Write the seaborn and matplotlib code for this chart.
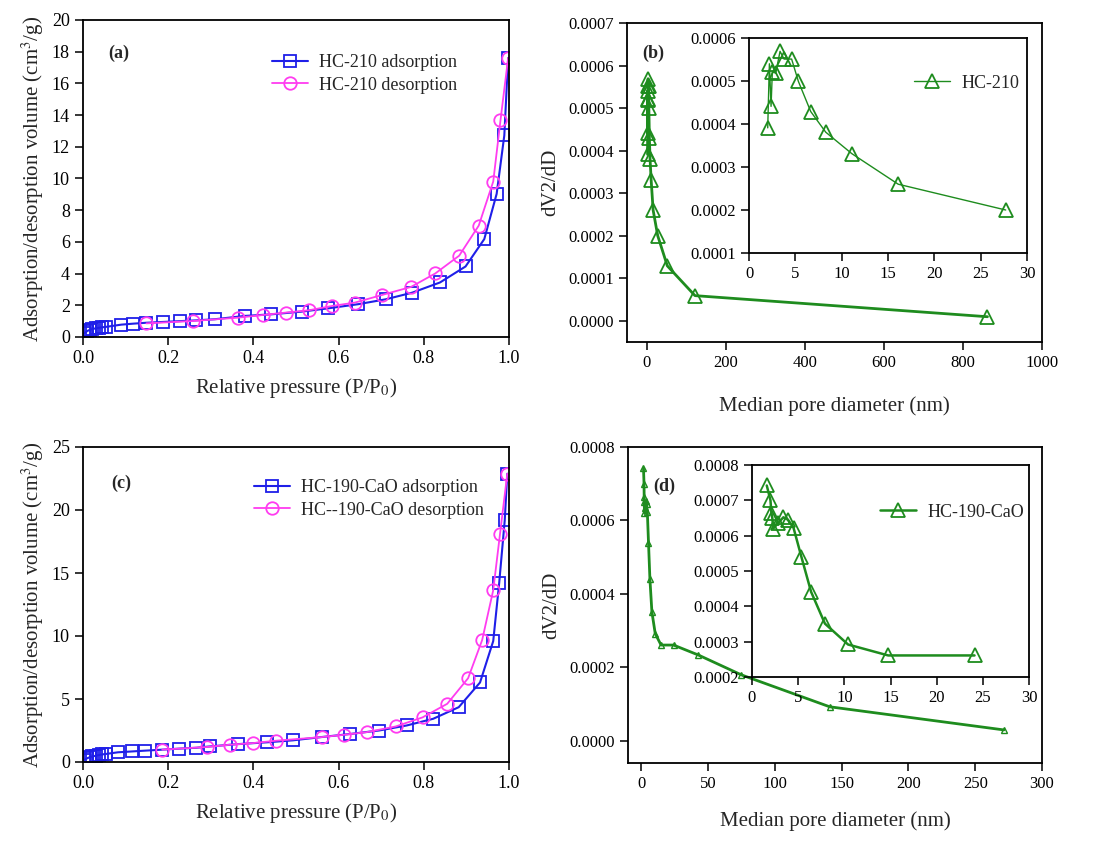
import numpy as np
import pandas as pd
import matplotlib
matplotlib.use("Agg")
import matplotlib.pyplot as plt
import seaborn as sns

sns.set_theme(style="white")
plt.rcParams['font.family'] = ['Liberation Serif', 'DejaVu Serif']
plt.rcParams['mathtext.fontset'] = 'stix'

# ---------------- data ----------------
# (a) HC-210 isotherm
a_ads_x = [0.004, 0.010, 0.016, 0.022, 0.030, 0.037, 0.045, 0.054, 0.090, 0.117, 0.149, 0.188, 0.227,
           0.266, 0.309, 0.380, 0.442, 0.513, 0.576, 0.646, 0.711, 0.773, 0.838, 0.898, 0.942, 0.971,
           0.989, 0.998]
a_ads_y = [0.25, 0.38, 0.45, 0.50, 0.55, 0.58, 0.61, 0.64, 0.78, 0.84, 0.90, 0.95, 1.00,
           1.05, 1.12, 1.33, 1.43, 1.60, 1.81, 2.07, 2.38, 2.80, 3.44, 4.45, 6.18, 9.03,
           12.72, 17.60]
a_des_x = [0.998, 0.980, 0.963, 0.929, 0.883, 0.827, 0.770, 0.703, 0.638, 0.585, 0.531, 0.476,
           0.423, 0.364, 0.258, 0.149]
a_des_y = [17.60, 13.67, 9.81, 7.03, 5.13, 4.01, 3.16, 2.66, 2.17, 1.96, 1.69, 1.54,
           1.39, 1.22, 1.01, 0.86]

# (c) HC-190-CaO isotherm
c_ads_x = [0.004, 0.010, 0.016, 0.022, 0.030, 0.037, 0.045, 0.054, 0.082, 0.116, 0.145, 0.186,
           0.225, 0.266, 0.299, 0.364, 0.431, 0.493, 0.560, 0.626, 0.695, 0.760, 0.822, 0.882,
           0.932, 0.963, 0.977, 0.990, 0.996]
c_ads_y = [0.18, 0.30, 0.38, 0.44, 0.50, 0.55, 0.60, 0.64, 0.77, 0.84, 0.90, 0.98,
           1.06, 1.13, 1.24, 1.42, 1.56, 1.72, 1.98, 2.22, 2.50, 2.90, 3.43, 4.35,
           6.31, 9.60, 14.22, 19.18, 22.88]
c_des_x = [0.996, 0.979, 0.963, 0.937, 0.904, 0.855, 0.797, 0.734, 0.666, 0.613, 0.561, 0.453,
           0.399, 0.345, 0.290, 0.186]
c_des_y = [22.88, 18.13, 13.64, 9.68, 6.65, 4.62, 3.54, 2.82, 2.37, 2.16, 1.98, 1.69,
           1.50, 1.37, 1.19, 0.98]

# (b) HC-210 pore size distribution
b_inset_x = [2.02, 2.20, 2.38, 2.52, 2.88, 3.35, 3.78, 4.60, 5.33, 6.66, 8.28, 11.1, 16.1, 27.7]
b_inset_y = [0.000391, 0.000540, 0.000441, 0.000522, 0.000518, 0.000569, 0.000551, 0.000551,
             0.000499, 0.000429, 0.000381, 0.000331, 0.000260, 0.000200]
b_main_x = b_inset_x + [52.0, 122.0, 862.0]
b_main_y = b_inset_y + [0.000129, 0.000059, 0.0000094]

# (d) HC-190-CaO pore size distribution
d_inset_x = [1.6, 2.0, 2.1, 2.2, 2.3, 2.8, 3.4, 3.9, 4.5, 5.35, 6.4, 7.9, 10.4, 14.75, 24.1]
d_inset_y = [0.000742, 0.000700, 0.000665, 0.000650, 0.000620, 0.000635, 0.000652, 0.000645,
             0.000622, 0.000540, 0.000441, 0.000351, 0.000292, 0.000261, 0.000261]
d_main_x = d_inset_x + [42.6, 74.8, 141.0, 271.5]
d_main_y = d_inset_y + [0.000234, 0.000180, 0.000093, 0.000030]

BLUE = '#1f1fe8'
MAGENTA = '#ff3cf0'
GREEN = '#1e8c1e'

W, H = 1096, 843
fig = plt.figure(figsize=(W / 100, H / 100), dpi=100)
fig.patch.set_facecolor('white')


def rect(l, t, r, b):
    return [l / W, 1 - b / H, (r - l) / W, (b - t) / H]


def style_axes(ax, fs=11.5):
    ax.set_facecolor('white')
    for s in ax.spines.values():
        s.set_color('black')
        s.set_linewidth(1.3)
        s.set_visible(True)
    ax.tick_params(axis='both', which='major', direction='out', length=6, width=1.1,
                   colors='black', labelsize=fs, bottom=True, left=True, top=False, right=False)
    ax.grid(False)


def line(ax, x, y, color, marker, ms, lw, label=None, mew=1.3):
    df = pd.DataFrame({'x': x, 'y': y})
    sns.lineplot(data=df, x='x', y='y', ax=ax, color=color, marker=marker, markersize=ms,
                 markerfacecolor='none', markeredgecolor=color, markeredgewidth=mew,
                 linewidth=lw, sort=False, estimator=None, label=label, legend=False)


# ---- (a)
ax_a = fig.add_axes(rect(83, 20, 509, 337))
line(ax_a, a_ads_x, a_ads_y, BLUE, 's', 9, 1.5, 'HC-210 adsorption')
line(ax_a, a_des_x, a_des_y, MAGENTA, 'o', 9, 1.3, 'HC-210 desorption')
ax_a.set_xlim(0, 1.0)
ax_a.set_ylim(0, 20)
ax_a.set_xticks(np.arange(0, 1.01, 0.2))
ax_a.set_xticklabels(['0.0', '0.2', '0.4', '0.6', '0.8', '1.0'])
ax_a.set_yticks(np.arange(0, 21, 2))
style_axes(ax_a, 13)
ax_a.set_xlabel('Relative pressure (P/P$_0$)', fontsize=15, labelpad=6)
ax_a.set_ylabel('Adsorption/desorption volume (cm$^3$/g)', fontsize=15, labelpad=4)
ax_a.text(0.059, 0.896, '(a)', transform=ax_a.transAxes, fontsize=13, fontweight='bold',
          va='center')
ax_a.legend(loc='upper left', bbox_to_anchor=(0.405, 0.943), frameon=False, fontsize=13,
            handlelength=2.0, handletextpad=0.6, labelspacing=0.3)

# ---- (c)
ax_c = fig.add_axes(rect(83, 447, 509, 762))
line(ax_c, c_ads_x, c_ads_y, BLUE, 's', 9, 1.5, 'HC-190-CaO adsorption')
line(ax_c, c_des_x, c_des_y, MAGENTA, 'o', 9, 1.3, 'HC--190-CaO desorption')
ax_c.set_xlim(0, 1.0)
ax_c.set_ylim(0, 25)
ax_c.set_xticks(np.arange(0, 1.01, 0.2))
ax_c.set_xticklabels(['0.0', '0.2', '0.4', '0.6', '0.8', '1.0'])
ax_c.set_yticks(np.arange(0, 26, 5))
style_axes(ax_c, 13)
ax_c.set_xlabel('Relative pressure (P/P$_0$)', fontsize=15, labelpad=6)
ax_c.set_ylabel('Adsorption/desorption volume (cm$^3$/g)', fontsize=15, labelpad=4)
ax_c.text(0.066, 0.886, '(c)', transform=ax_c.transAxes, fontsize=13, fontweight='bold',
          va='center')
ax_c.legend(loc='upper left', bbox_to_anchor=(0.364, 0.949), frameon=False, fontsize=13,
            handlelength=2.0, handletextpad=0.6, labelspacing=0.3)

# ---- (b)
ax_b = fig.add_axes(rect(627, 23, 1042, 342))
line(ax_b, b_main_x, b_main_y, GREEN, '^', 10, 2.0)
ax_b.set_xlim(-50, 1000)
ax_b.set_ylim(-0.00005, 0.0007)
ax_b.set_xticks(np.arange(0, 1001, 200))
ax_b.set_yticks(np.arange(0, 0.00071, 0.0001))
ax_b.set_yticklabels([f'{v:.4f}' for v in np.arange(0, 0.00071, 0.0001)])
style_axes(ax_b, 12)
ax_b.set_xlabel('Median pore diameter (nm)', fontsize=15, labelpad=18)
ax_b.set_ylabel('dV2/dD', fontsize=15, labelpad=6)
ax_b.text(0.036, 0.906, '(b)', transform=ax_b.transAxes, fontsize=13, fontweight='bold',
          va='center')

axi_b = fig.add_axes(rect(749, 38, 1027, 253))
line(axi_b, b_inset_x, b_inset_y, GREEN, '^', 10, 1.0, 'HC-210')
axi_b.set_xlim(0, 30)
axi_b.set_ylim(0.0001, 0.0006)
axi_b.set_xticks(np.arange(0, 31, 5))
axi_b.set_yticks(np.arange(0.0001, 0.00061, 0.0001))
axi_b.set_yticklabels([f'{v:.4f}' for v in np.arange(0.0001, 0.00061, 0.0001)])
style_axes(axi_b, 12)
axi_b.set_xlabel('')
axi_b.set_ylabel('')
axi_b.legend(loc='upper right', bbox_to_anchor=(1.03, 0.905), frameon=False, fontsize=13,
             handlelength=2.0, handletextpad=0.6)

# ---- (d)
ax_d = fig.add_axes(rect(628, 447, 1042, 763))
line(ax_d, d_main_x, d_main_y, GREEN, '^', 5, 2.0, mew=1.0)
ax_d.set_xlim(-10, 300)
ax_d.set_ylim(-0.00006, 0.0008)
ax_d.set_xticks(np.arange(0, 301, 50))
ax_d.set_yticks(np.arange(0, 0.00081, 0.0002))
ax_d.set_yticklabels([f'{v:.4f}' for v in np.arange(0, 0.00081, 0.0002)])
style_axes(ax_d, 12)
ax_d.set_xlabel('Median pore diameter (nm)', fontsize=15, labelpad=14)
ax_d.set_ylabel('dV2/dD', fontsize=15, labelpad=6)
ax_d.text(0.06, 0.877, '(d)', transform=ax_d.transAxes, fontsize=13, fontweight='bold',
          va='center')

axi_d = fig.add_axes(rect(752, 465, 1029, 677))
line(axi_d, d_inset_x, d_inset_y, GREEN, '^', 10, 1.8, 'HC-190-CaO')
axi_d.set_xlim(0, 30)
axi_d.set_ylim(0.0002, 0.0008)
axi_d.set_xticks(np.arange(0, 31, 5))
axi_d.set_yticks(np.arange(0.0002, 0.00081, 0.0001))
axi_d.set_yticklabels([f'{v:.4f}' for v in np.arange(0.0002, 0.00081, 0.0001)])
style_axes(axi_d, 12)
axi_d.set_xlabel('')
axi_d.set_ylabel('')
axi_d.legend(loc='upper right', bbox_to_anchor=(1.04, 0.895), frameon=False, fontsize=13,
             handlelength=2.0, handletextpad=0.6)

fig.savefig('out.png', dpi=100, facecolor='white')
